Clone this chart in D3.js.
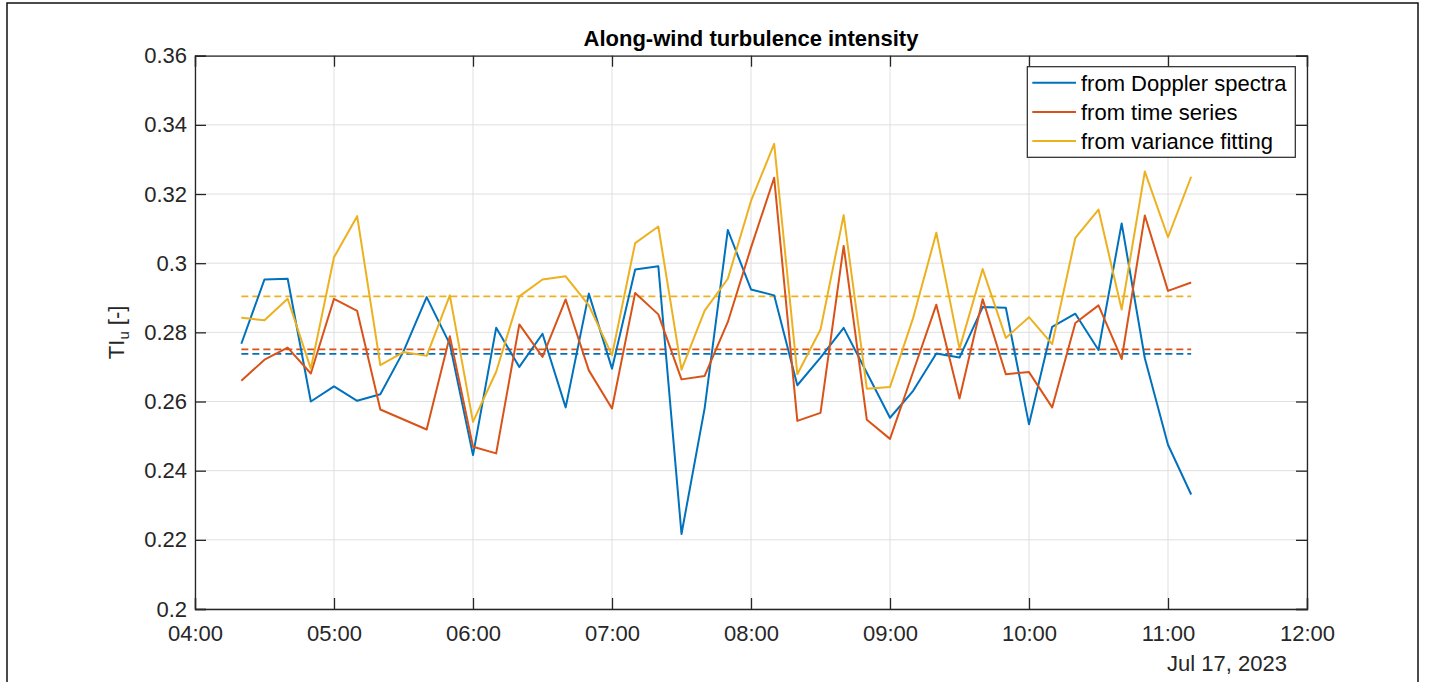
<!DOCTYPE html>
<html>
<head>
<meta charset="utf-8">
<script src="https://cdn.jsdelivr.net/npm/d3@7"></script>
<style>
  body { margin: 0; background: #fff; }
  svg { display: block; font-family: Arial, 'Liberation Sans', Helvetica, sans-serif; }
</style>
</head>
<body>
<div id="chart"></div>
<script>
// Sample times (10 min steps)
const times = [
  '04:20', '04:30', '04:40', '04:50', '05:00', '05:10', '05:20', '05:30', '05:40', '05:50',
  '06:00', '06:10', '06:20', '06:30', '06:40', '06:50', '07:00', '07:10', '07:20', '07:30',
  '07:40', '07:50', '08:00', '08:10', '08:20', '08:30', '08:40', '08:50', '09:00', '09:10',
  '09:20', '09:30', '09:40', '09:50', '10:00', '10:10', '10:20', '10:30', '10:40', '10:50',
  '11:00', '11:10',
];

const dopplerTI = [
  0.2767, 0.2953, 0.2955, 0.2600, 0.2644, 0.2602, 0.2621, 0.2745, 0.2902, 0.2766,
  0.2445, 0.2813, 0.2700, 0.2796, 0.2583, 0.2912, 0.2695, 0.2982, 0.2991, 0.2217,
  0.2581, 0.3096, 0.2924, 0.2907, 0.2647, 0.2727, 0.2813, 0.2683, 0.2553, 0.2631,
  0.2739, 0.2727, 0.2873, 0.2871, 0.2534, 0.2816, 0.2854, 0.2749, 0.3115, 0.2725,
  0.2475, 0.2331,
];

const timeSeriesTI = [
  0.2660, 0.2721, 0.2756, 0.2681, 0.2897, 0.2862, 0.2577, 0.2548, 0.2519, 0.2789,
  0.2469, 0.2450, 0.2823, 0.2729, 0.2895, 0.2690, 0.2580, 0.2914, 0.2852, 0.2664,
  0.2674, 0.2830, 0.3045, 0.3247, 0.2544, 0.2567, 0.3050, 0.2547, 0.2492, 0.2686,
  0.2880, 0.2609, 0.2896, 0.2679, 0.2685, 0.2583, 0.2827, 0.2878, 0.2723, 0.3138,
  0.2920, 0.2944,
];

const varianceTI = [
  0.2842, 0.2835, 0.2897, 0.2695, 0.3017, 0.3136, 0.2705, 0.2743, 0.2732, 0.2907,
  0.2541, 0.2686, 0.2904, 0.2953, 0.2962, 0.2878, 0.2734, 0.3058, 0.3106, 0.2692,
  0.2863, 0.2955, 0.3180, 0.3345, 0.2679, 0.2808, 0.3139, 0.2637, 0.2642, 0.2842,
  0.3088, 0.2753, 0.2983, 0.2784, 0.2844, 0.2766, 0.3073, 0.3155, 0.2866, 0.3265,
  0.3075, 0.3250,
];

// Dashed mean levels (blue, red, yellow)
const meanTI = [0.2738, 0.2751, 0.2904];

const seriesNames = ['from Doppler spectra', 'from time series', 'from variance fitting'];
const seriesColors = ['#0072BD', '#D95319', '#EDB120'];

const xTicks = ['04:00', '05:00', '06:00', '07:00', '08:00', '09:00', '10:00', '11:00', '12:00'];
const yTicks = [0.2, 0.22, 0.24, 0.26, 0.28, 0.3, 0.32, 0.34, 0.36];
const dateLabel = 'Jul 17, 2023';
const title = 'Along-wind turbulence intensity';

const width = 1435;
const height = 682;
const margin = { top: 55.7, right: 128, bottom: 73, left: 195 };
const plotW = width - margin.left - margin.right;
const plotH = height - margin.top - margin.bottom;
const axisColor = '#262626';
const fontSize = 22;

const parseTime = d3.timeParse('%H:%M');

const svg = d3.select('#chart').append('svg')
  .attr('width', width)
  .attr('height', height);

svg.append('rect')
  .attr('width', width)
  .attr('height', height)
  .attr('fill', '#fff');

// Figure frame
svg.append('rect')
  .attr('x', 7)
  .attr('y', 3)
  .attr('width', 1411)
  .attr('height', 720)
  .attr('fill', 'none')
  .attr('stroke', '#111')
  .attr('stroke-width', 1.5);

const g = svg.append('g')
  .attr('transform', `translate(${margin.left},${margin.top})`);

const x = d3.scaleTime()
  .domain([parseTime(xTicks[0]), parseTime(xTicks[xTicks.length - 1])])
  .range([0, plotW]);

const y = d3.scaleLinear()
  .domain([yTicks[0], yTicks[yTicks.length - 1]])
  .range([plotH, 0]);

const xTickDates = xTicks.map(parseTime);

// Grid
g.append('g')
  .selectAll('line')
  .data(xTickDates)
  .join('line')
  .attr('x1', d => x(d)).attr('x2', d => x(d))
  .attr('y1', 0).attr('y2', plotH)
  .attr('stroke', '#dfdfdf')
  .attr('stroke-width', 1);

g.append('g')
  .selectAll('line')
  .data(yTicks)
  .join('line')
  .attr('x1', 0).attr('x2', plotW)
  .attr('y1', d => y(d)).attr('y2', d => y(d))
  .attr('stroke', '#dfdfdf')
  .attr('stroke-width', 1);

// Mean lines
const firstT = parseTime(times[0]);
const lastT = parseTime(times[times.length - 1]);
g.append('g')
  .selectAll('line')
  .data(meanTI)
  .join('line')
  .attr('x1', x(firstT)).attr('x2', x(lastT))
  .attr('y1', d => y(d)).attr('y2', d => y(d))
  .attr('stroke', (d, i) => seriesColors[i])
  .attr('stroke-width', 1.8)
  .attr('stroke-dasharray', '7,4');

// Data lines
const series = [dopplerTI, timeSeriesTI, varianceTI];
const line = d3.line()
  .x((d, i) => x(parseTime(times[i])))
  .y(d => y(d));

g.append('g')
  .selectAll('path')
  .data(series)
  .join('path')
  .attr('fill', 'none')
  .attr('stroke', (d, i) => seriesColors[i])
  .attr('stroke-width', 2)
  .attr('stroke-linejoin', 'round')
  .attr('d', line);

// Axes (inward ticks on all four sides)
const tickLen = 11;

const xAxis = g.append('g')
  .attr('transform', `translate(0,${plotH})`)
  .call(d3.axisBottom(x)
    .tickValues(xTickDates)
    .tickFormat(d3.timeFormat('%H:%M'))
    .tickSize(-tickLen)
    .tickPadding(16));

const yAxis = g.append('g')
  .call(d3.axisLeft(y)
    .tickValues(yTicks)
    .tickFormat(d => String(d))
    .tickSize(-tickLen)
    .tickPadding(8));

g.append('g')
  .call(d3.axisTop(x)
    .tickValues(xTickDates)
    .tickFormat('')
    .tickSize(-tickLen));

g.append('g')
  .attr('transform', `translate(${plotW},0)`)
  .call(d3.axisRight(y)
    .tickValues(yTicks)
    .tickFormat('')
    .tickSize(-tickLen));

g.selectAll('.domain')
  .attr('stroke', axisColor)
  .attr('stroke-width', 1.3);
g.selectAll('.tick line')
  .attr('stroke', axisColor)
  .attr('stroke-width', 1.3);
g.selectAll('.tick text')
  .attr('fill', axisColor)
  .style('font-size', fontSize + 'px')
  .style('font-family', "Arial, 'Liberation Sans', sans-serif");

// Date under the time axis
g.append('text')
  .attr('x', x(parseTime('12:00')) - 80)
  .attr('y', plotH + 62)
  .attr('text-anchor', 'middle')
  .attr('fill', axisColor)
  .style('font-size', fontSize + 'px')
  .text(dateLabel);

// Title
svg.append('text')
  .attr('x', margin.left + plotW / 2)
  .attr('y', 46)
  .attr('text-anchor', 'middle')
  .attr('font-weight', 'bold')
  .attr('fill', '#000')
  .style('font-size', fontSize + 'px')
  .text(title);

// Y label: TI_u [-]
const yLabel = svg.append('text')
  .attr('transform', `translate(123.5,${margin.top + plotH / 2}) rotate(-90)`)
  .attr('text-anchor', 'middle')
  .attr('fill', axisColor)
  .style('font-size', fontSize + 'px');
yLabel.append('tspan').text('TI');
yLabel.append('tspan')
  .attr('dy', 5)
  .style('font-size', '15px')
  .text('u');
yLabel.append('tspan')
  .attr('dy', -5)
  .text(' [-]');

// Legend
const legend = svg.append('g')
  .attr('transform', 'translate(1027.3,66.7)');

legend.append('rect')
  .attr('width', 268)
  .attr('height', 90.6)
  .attr('fill', '#fff')
  .attr('stroke', axisColor)
  .attr('stroke-width', 1.2);

const rows = legend.selectAll('g.row')
  .data(seriesNames)
  .join('g')
  .attr('class', 'row')
  .attr('transform', (d, i) => `translate(0,${16 + i * 29.2})`);

rows.append('line')
  .attr('x1', 5).attr('x2', 48.7)
  .attr('stroke', (d, i) => seriesColors[i])
  .attr('stroke-width', 2);

rows.append('text')
  .attr('x', 53.7)
  .attr('y', 7.8)
  .attr('fill', '#000')
  .style('font-size', fontSize + 'px')
  .text(d => d);
</script>
</body>
</html>
